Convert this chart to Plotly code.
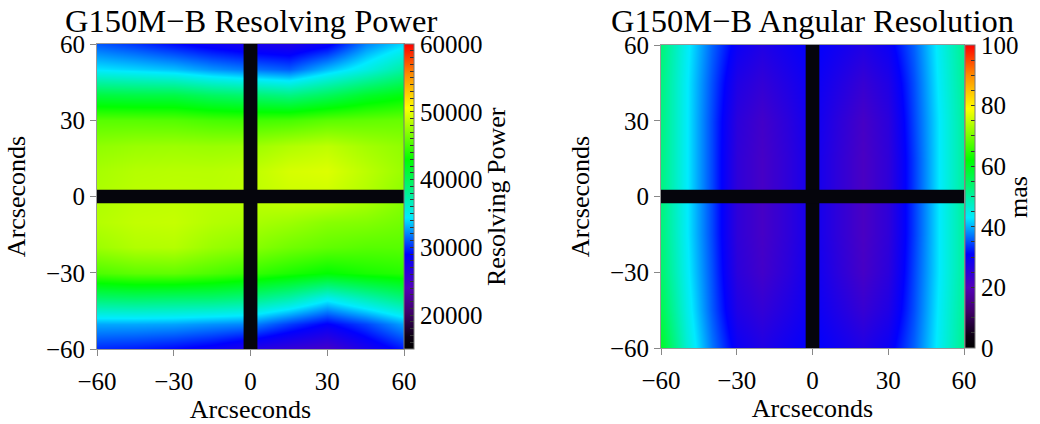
import plotly.graph_objects as go

# ---------------- data ----------------
x_rp = [-60, -45, -30, -15, 0, 15, 30, 45, 60]
y_rp = [-60, -50, -40, -30, -20, -10, 0, 10, 20, 30, 40, 50, 60]
z_rp = [
    [29800, 29500, 29000, 28300, 27000, 26000, 25000, 27500, 29500],
    [32800, 32800, 32700, 32300, 32000, 30300, 28800, 30500, 32700],
    [39300, 39500, 39300, 39200, 38600, 37200, 34900, 36900, 38800],
    [45200, 45700, 45800, 45200, 44500, 43700, 42900, 43600, 44000],
    [47600, 48200, 48300, 47500, 47000, 46300, 45800, 45500, 45500],
    [48300, 48700, 48800, 48300, 48000, 47600, 47000, 46800, 46300],
    [48100, 48500, 48600, 48500, 48600, 49000, 49000, 48200, 47000],
    [47900, 48300, 48400, 48400, 48600, 49300, 49500, 48500, 47500],
    [47200, 47500, 47600, 47500, 47600, 48200, 48600, 47800, 47200],
    [45500, 45500, 45400, 45000, 44800, 45000, 45600, 45800, 46000],
    [40800, 40600, 40600, 39700, 39200, 38600, 39900, 41500, 42500],
    [34200, 33800, 33300, 32300, 31600, 31000, 33200, 35200, 37500],
    [31000, 30200, 29200, 28300, 27600, 27300, 28500, 32000, 34000],
]

x_ar = [-60, -50, -40, -30, -20, -10, 0, 10, 20, 30, 40, 50, 60]
y_ar = [-60, -45, -30, -15, 0, 15, 30, 45, 60]
z_ar = [
    [59.0, 46.5, 37.0, 29.5, 27.0, 29.0, 31.0, 29.0, 27.0, 29.5, 36.0, 44.0, 51.5],
    [56.0, 45.0, 35.5, 27.0, 24.5, 27.0, 30.0, 27.0, 24.0, 27.0, 35.0, 43.5, 51.0],
    [54.0, 44.0, 35.0, 25.5, 22.5, 25.5, 29.5, 25.5, 22.0, 25.5, 34.5, 43.0, 50.5],
    [53.0, 43.5, 34.5, 25.0, 22.0, 25.0, 29.0, 25.0, 21.5, 25.0, 34.0, 43.0, 50.5],
    [52.5, 43.5, 34.5, 25.0, 22.0, 25.0, 29.0, 25.0, 21.5, 25.0, 34.0, 43.0, 50.5],
    [52.5, 43.5, 34.5, 25.0, 22.0, 25.0, 29.0, 25.0, 21.5, 25.0, 34.0, 43.0, 50.5],
    [52.5, 43.5, 34.5, 25.5, 22.5, 25.5, 29.5, 25.5, 22.0, 25.5, 34.5, 43.0, 50.5],
    [52.5, 43.5, 35.0, 27.0, 24.5, 27.0, 30.0, 27.0, 24.0, 27.0, 35.0, 43.5, 51.0],
    [53.0, 44.0, 36.0, 29.5, 27.0, 29.0, 31.0, 29.0, 27.0, 29.5, 36.0, 44.0, 51.5],
]

axis_ticks = [-60, -30, 0, 30, 60]
rp_cb_ticks = list(range(15000, 60001, 1000))
rp_cb_labels = [str(v) if v % 10000 == 0 else "" for v in rp_cb_ticks]
ar_cb_ticks = list(range(0, 101, 5))
ar_cb_labels = [str(v) if v % 20 == 0 else "" for v in ar_cb_ticks]
gap_half = 2.7  # detector gap half width (arcsec)

titles = ["G150M\u2212B Resolving Power", "G150M\u2212B Angular Resolution"]
cb_titles = ["Resolving Power", "mas"]

# ---------------- style ----------------
FONT = "Liberation Serif"
W, H = 1040, 424
colorscale = [
    [0.00, "rgb(0,0,0)"],
    [0.04, "rgb(12,0,18)"],
    [0.12, "rgb(65,0,105)"],
    [0.20, "rgb(85,0,185)"],
    [0.31, "rgb(0,0,255)"],
    [0.43, "rgb(0,235,255)"],
    [0.62, "rgb(0,255,0)"],
    [0.79, "rgb(255,255,0)"],
    [0.90, "rgb(255,140,0)"],
    [1.00, "rgb(255,0,0)"],
]

# target pixel boxes in the window
L1, R1, T1, B1 = 97, 404, 44, 349
L2, R2, T2, B2 = 661, 964, 45, 348


def px(v):
    return v / W


def py(v):
    return 1 - v / H


fig = go.Figure()

cb_common = dict(
    xanchor="left", xpad=0, thickness=10, thicknessmode="pixels",
    lenmode="fraction", yanchor="middle", ypad=0,
    outlinewidth=1, outlinecolor="#777",
    tickmode="array", ticks="inside", ticklen=4, tickcolor="#333", tickwidth=1,
    tickfont=dict(family=FONT, size=25, color="black"),
)

fig.add_trace(go.Heatmap(
    x=x_rp, y=y_rp, z=z_rp, zmin=15000, zmax=60000, zsmooth="best",
    colorscale=colorscale, xaxis="x", yaxis="y",
    colorbar=dict(x=px(R1), len=(B1 - T1) / H, y=(py(T1) + py(B1)) / 2,
                  tickvals=rp_cb_ticks, ticktext=rp_cb_labels, **cb_common),
))

fig.add_trace(go.Heatmap(
    x=x_ar, y=y_ar, z=z_ar, zmin=0, zmax=100, zsmooth="best",
    colorscale=colorscale, xaxis="x2", yaxis="y2",
    colorbar=dict(x=px(R2 + 1), len=(B2 - T2) / H, y=(py(T2) + py(B2)) / 2,
                  tickvals=ar_cb_ticks, ticktext=ar_cb_labels, **cb_common),
))

axis_common = dict(
    range=[-60, 60], tickmode="array", tickvals=axis_ticks, automargin=False,
    ticks="outside", ticklen=6, tickcolor="#888", tickwidth=1,
    showline=True, linecolor="#999", linewidth=1, mirror=True,
    showgrid=False, zeroline=False,
    tickfont=dict(family=FONT, size=25, color="black"),
)
title_font = dict(family=FONT, size=26, color="black")

fig.update_layout(
    width=W, height=H, margin=dict(l=0, r=0, t=0, b=0, autoexpand=False),
    paper_bgcolor="white", plot_bgcolor="white", showlegend=False,
    font=dict(family=FONT, color="black"),
    xaxis=dict(domain=[px(L1), px(R1)], anchor="y", ticklabelstandoff=4,
               title=dict(text="Arcseconds", font=title_font, standoff=2), **axis_common),
    yaxis=dict(domain=[py(B1), py(T1)], anchor="x",
               title=dict(text="Arcseconds", font=title_font, standoff=12), **axis_common),
    xaxis2=dict(domain=[px(L2), px(R2)], anchor="y2", ticklabelstandoff=4,
                title=dict(text="Arcseconds", font=title_font, standoff=2), **axis_common),
    yaxis2=dict(domain=[py(B2), py(T2)], anchor="x2",
                title=dict(text="Arcseconds", font=title_font, standoff=12), **axis_common),
)

# detector gaps (black cross)
for xr, yr in (("x", "y"), ("x2", "y2")):
    fig.add_shape(type="rect", xref=xr, yref=yr, x0=-gap_half, x1=gap_half, y0=-60, y1=60,
                  fillcolor="rgb(5,5,12)", line=dict(width=0), layer="above")
    fig.add_shape(type="rect", xref=xr, yref=yr, x0=-60, x1=60, y0=-gap_half, y1=gap_half,
                  fillcolor="rgb(5,5,12)", line=dict(width=0), layer="above")

# subplot titles
for t, cx in zip(titles, [(L1 + R1) / 2, (L2 + R2) / 2]):
    fig.add_annotation(text=t, xref="paper", yref="paper", x=px(cx), y=py(21),
                       xanchor="center", yanchor="middle", showarrow=False,
                       font=dict(family=FONT, size=32.5, color="black"))

# colorbar titles
for t, cx in zip(cb_titles, [497, 1019]):
    fig.add_annotation(text=t, xref="paper", yref="paper", x=px(cx), y=py(197),
                       xanchor="center", yanchor="middle", textangle=-90, showarrow=False,
                       font=title_font)

# remove the default page margin so the figure fills the window exactly
fig.write_html("out.html", config={"displayModeBar": False},
               post_script="document.body.style.margin='0';")
